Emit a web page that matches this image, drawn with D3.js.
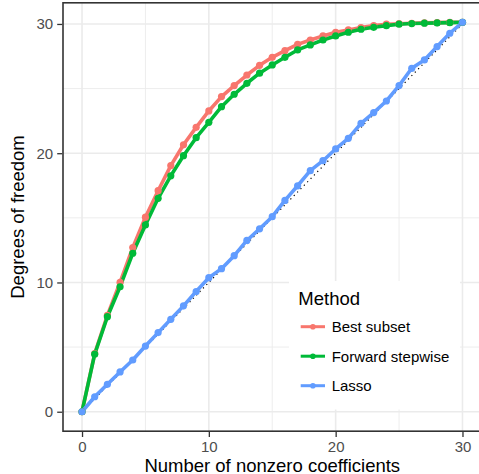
<!DOCTYPE html>
<html>
<head>
<meta charset="utf-8">
<script src="https://cdn.jsdelivr.net/npm/d3@7"></script>
<style>
  html, body { margin: 0; padding: 0; background: #fff; }
  svg { display: block; font-family: "Liberation Sans", Arial, sans-serif; }
</style>
</head>
<body>
<svg id="chart" width="479" height="474"></svg>
<script>
// ---- data ----
const nonzero = d3.range(0, 31);
const methods = ["Best subset", "Forward stepwise", "Lasso"];
const methodColors = ["#F8766D", "#00BA38", "#619CFF"];
const bestSubset = [0, 4.5, 7.45, 10.0, 12.7, 15.05, 17.1, 19.04, 20.65, 22.0, 23.27,
  24.38, 25.23, 26.05, 26.8, 27.42, 27.93, 28.42, 28.76, 29.07, 29.36,
  29.54, 29.72, 29.87, 29.98, 30.02, 30.05, 30.08, 30.1, 30.12, 30.13];
const forwardStepwise = [0, 4.45, 7.35, 9.67, 12.26, 14.45, 16.51, 18.25, 19.81, 21.2, 22.39,
  23.6, 24.56, 25.41, 26.19, 26.83, 27.42, 27.99, 28.38, 28.76, 29.07,
  29.36, 29.59, 29.74, 29.87, 29.98, 30.03, 30.06, 30.08, 30.1, 30.13];
const lasso = [0, 1.16, 2.12, 3.08, 4.0, 5.08, 6.12, 7.15, 8.19, 9.3, 10.37,
  11.07, 12.07, 13.25, 14.15, 15.09, 16.35, 17.48, 18.65, 19.42, 20.33,
  21.15, 22.31, 23.14, 24.04, 25.23, 26.57, 27.22, 28.25, 29.28, 30.13];
const seriesValues = [bestSubset, forwardStepwise, lasso];
const xTicks = [0, 10, 20, 30];
const yTicks = [0, 10, 20, 30];
const xMinor = [5, 15, 25];
const yMinor = [5, 15, 25];
const refLine = [0, 30]; // y = x reference

// ---- layout ----
const svg = d3.select("#chart");
const P = { left: 63, right: 481.5, top: 2.8, bottom: 431.2 };

const xMax = 30, yMax = d3.max(seriesValues.flat());
const x = d3.scaleLinear().domain([-0.05 * xMax, xMax * 1.05]).range([P.left, P.right]);
const y = d3.scaleLinear().domain([-0.05 * yMax, yMax * 1.05]).range([P.bottom, P.top]);

// panel background
svg.append("rect").attr("x", P.left).attr("y", P.top)
  .attr("width", P.right - P.left).attr("height", P.bottom - P.top).attr("fill", "#fff");

const grid = svg.append("g");
// minor grid
grid.selectAll(".xmin").data(xMinor).join("line")
  .attr("x1", d => x(d)).attr("x2", d => x(d)).attr("y1", P.top).attr("y2", P.bottom)
  .attr("stroke", "#EBEBEB").attr("stroke-width", 0.9);
grid.selectAll(".ymin").data(yMinor).join("line")
  .attr("y1", d => y(d)).attr("y2", d => y(d)).attr("x1", P.left).attr("x2", P.right)
  .attr("stroke", "#EBEBEB").attr("stroke-width", 0.9);
// major grid
grid.selectAll(".xmaj").data(xTicks).join("line")
  .attr("x1", d => x(d)).attr("x2", d => x(d)).attr("y1", P.top).attr("y2", P.bottom)
  .attr("stroke", "#EBEBEB").attr("stroke-width", 1.6);
grid.selectAll(".ymaj").data(yTicks).join("line")
  .attr("y1", d => y(d)).attr("y2", d => y(d)).attr("x1", P.left).attr("x2", P.right)
  .attr("stroke", "#EBEBEB").attr("stroke-width", 1.6);

// reference dotted line
svg.append("line")
  .attr("x1", x(refLine[0])).attr("y1", y(refLine[0]))
  .attr("x2", x(refLine[1])).attr("y2", y(refLine[1]))
  .attr("stroke", "#000").attr("stroke-width", 1.2)
  .attr("stroke-dasharray", "1.2,3.6");

// lines
const line = d3.line().x((d, i) => x(nonzero[i])).y(d => y(d));
const data = methods.map((m, k) => ({ name: m, color: methodColors[k], values: seriesValues[k] }));
svg.append("g").selectAll("path").data(data).join("path")
  .attr("d", d => line(d.values))
  .attr("fill", "none").attr("stroke", d => d.color)
  .attr("stroke-width", 3.6).attr("stroke-linejoin", "round").attr("stroke-linecap", "butt");
// points
data.forEach(s => {
  svg.append("g").selectAll("circle").data(s.values).join("circle")
    .attr("cx", (d, i) => x(nonzero[i])).attr("cy", d => y(d))
    .attr("r", 3.6).attr("fill", s.color);
});

// panel border
svg.append("rect").attr("x", P.left).attr("y", P.top)
  .attr("width", P.right - P.left).attr("height", P.bottom - P.top)
  .attr("fill", "none").attr("stroke", "#333333").attr("stroke-width", 1.6);

// axes
const xAxis = d3.axisBottom(x).tickValues(xTicks).tickSize(5).tickPadding(4);
const gx = svg.append("g").attr("transform", `translate(0,${P.bottom + 0.8})`).call(xAxis);
const yAxis = d3.axisLeft(y).tickValues(yTicks).tickSize(5).tickPadding(4);
const gy = svg.append("g").attr("transform", `translate(${P.left - 0.8},0)`).call(yAxis);
[gx, gy].forEach(g => {
  g.select(".domain").remove();
  g.selectAll(".tick line").attr("stroke", "#333333").attr("stroke-width", 1.3);
  g.selectAll(".tick text").attr("fill", "#4D4D4D").style("font-size", "15px")
    .style("font-family", "'Liberation Sans', Arial, sans-serif");
});

// axis titles
svg.append("text").attr("x", (P.left + P.right) / 2).attr("y", 471.5)
  .attr("text-anchor", "middle").style("font-size", "18.5px").attr("fill", "#000")
  .text("Number of nonzero coefficients");
svg.append("text").attr("transform", `translate(23.5,${(P.top + P.bottom) / 2}) rotate(-90)`)
  .attr("text-anchor", "middle").style("font-size", "18.5px").attr("fill", "#000")
  .text("Degrees of freedom");

// legend
const lg = svg.append("g");
lg.append("rect").attr("x", 289).attr("y", 281).attr("width", 171).attr("height", 128.5).attr("fill", "#fff");
lg.append("text").attr("x", 298.3).attr("y", 305).style("font-size", "18.5px").attr("fill", "#000").text("Method");
const rows = lg.selectAll(".row").data(data).join("g")
  .attr("transform", (d, i) => `translate(0,${326.7 + i * 29.5})`);
rows.append("line").attr("x1", 300.7).attr("x2", 325).attr("y1", 0).attr("y2", 0)
  .attr("stroke", d => d.color).attr("stroke-width", 3);
rows.append("circle").attr("cx", 312.9).attr("cy", 0).attr("r", 2.8).attr("fill", d => d.color);
rows.append("text").attr("x", 331.7).attr("y", 5.5).style("font-size", "15px").attr("fill", "#000")
  .text(d => d.name);
</script>
</body>
</html>
